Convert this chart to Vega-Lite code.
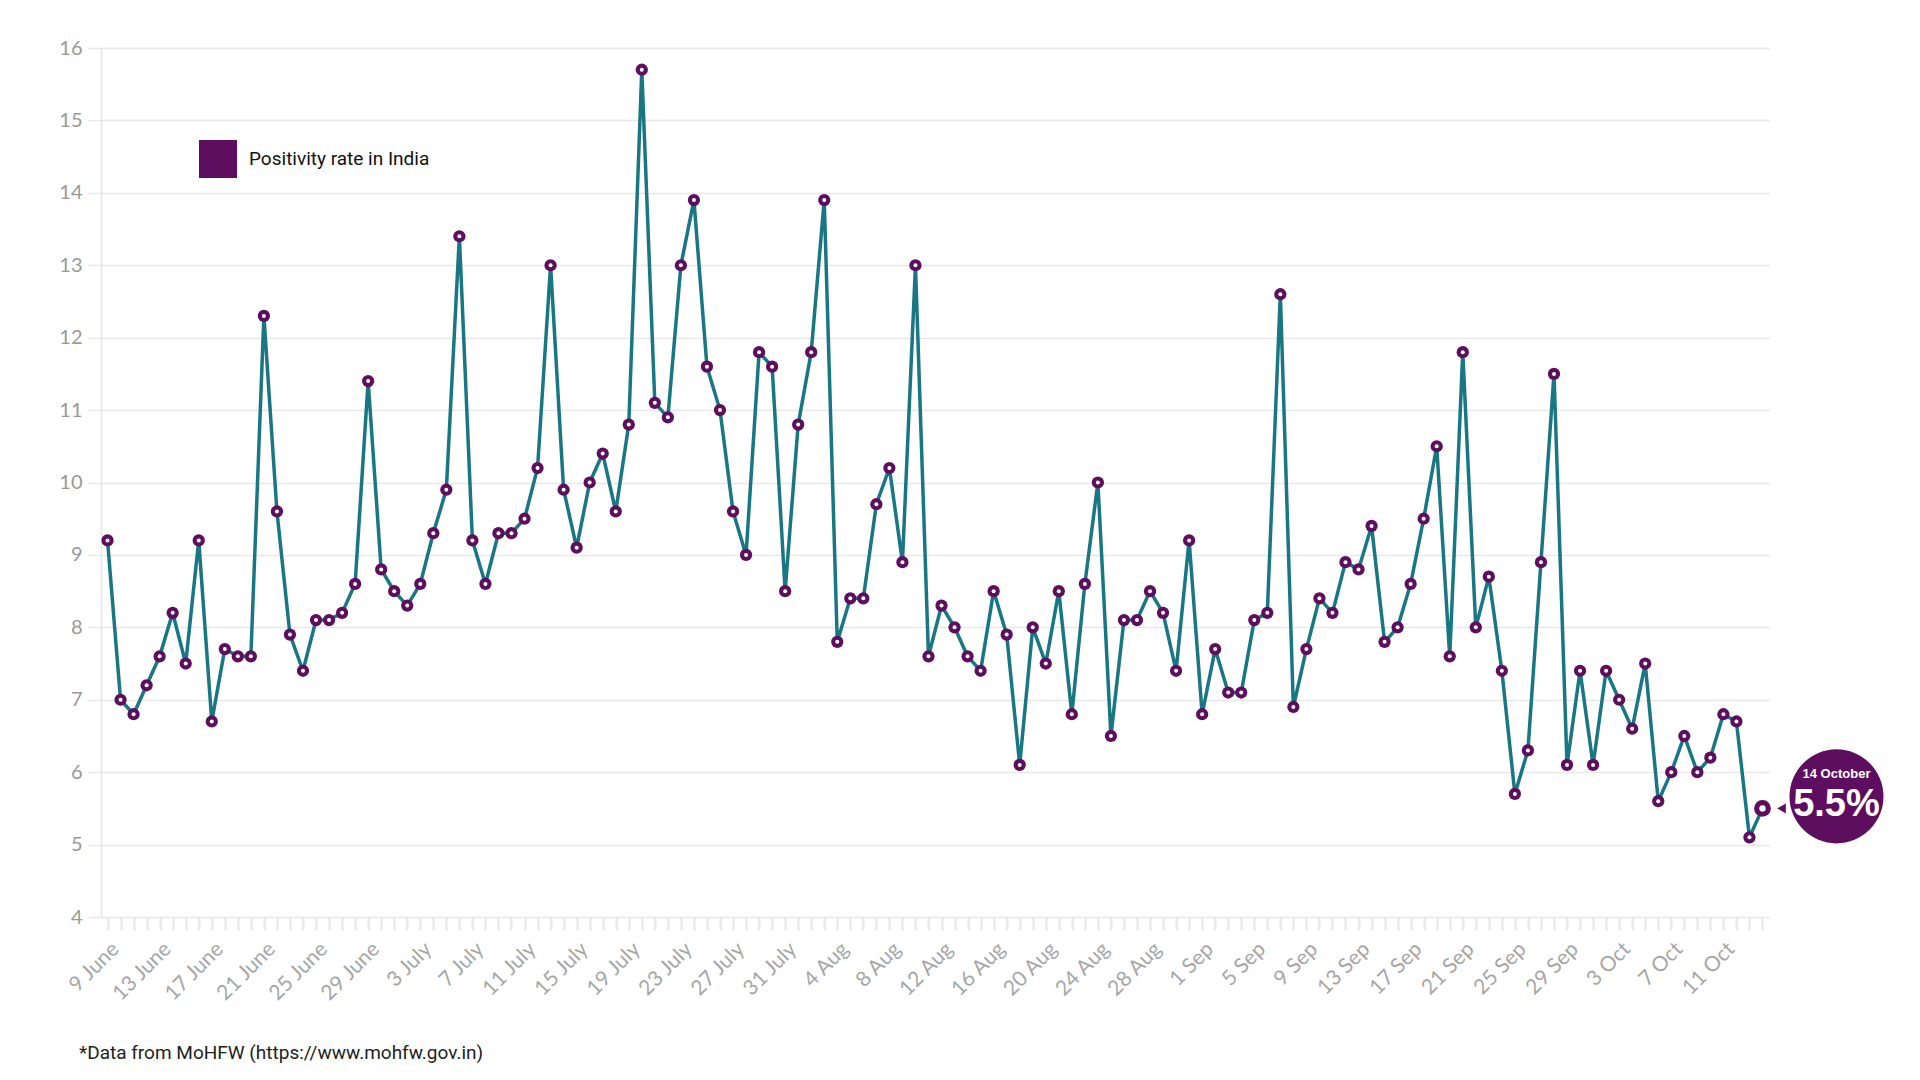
{
  "$schema": "https://vega.github.io/schema/vega-lite/v6.json",
  "width": 1668,
  "height": 869,
  "autosize": {"type": "none"},
  "padding": {"left": 101, "top": 48, "right": 151, "bottom": 163},
  "background": "white",
  "usermeta": {"embedOptions": {"actions": false}},
  "config": {"view": {"stroke": null}},
  "title": {
    "text": "*Data from MoHFW (https://www.mohfw.gov.in)",
    "orient": "bottom",
    "anchor": "start",
    "frame": "group",
    "font": "Roboto",
    "fontSize": 19,
    "fontWeight": "normal",
    "color": "#222222",
    "dx": -22,
    "offset": 40
  },
  "data": {
    "values": [
      {"date": "9 June", "value": 9.2}, {"date": "10 June", "value": 7.0}, {"date": "11 June", "value": 6.8},
      {"date": "12 June", "value": 7.2}, {"date": "13 June", "value": 7.6}, {"date": "14 June", "value": 8.2},
      {"date": "15 June", "value": 7.5}, {"date": "16 June", "value": 9.2}, {"date": "17 June", "value": 6.7},
      {"date": "18 June", "value": 7.7}, {"date": "19 June", "value": 7.6}, {"date": "20 June", "value": 7.6},
      {"date": "21 June", "value": 12.3}, {"date": "22 June", "value": 9.6}, {"date": "23 June", "value": 7.9},
      {"date": "24 June", "value": 7.4}, {"date": "25 June", "value": 8.1}, {"date": "26 June", "value": 8.1},
      {"date": "27 June", "value": 8.2}, {"date": "28 June", "value": 8.6}, {"date": "29 June", "value": 11.4},
      {"date": "30 June", "value": 8.8},
      {"date": "1 July", "value": 8.5}, {"date": "2 July", "value": 8.3}, {"date": "3 July", "value": 8.6},
      {"date": "4 July", "value": 9.3}, {"date": "5 July", "value": 9.9}, {"date": "6 July", "value": 13.4},
      {"date": "7 July", "value": 9.2}, {"date": "8 July", "value": 8.6}, {"date": "9 July", "value": 9.3},
      {"date": "10 July", "value": 9.3}, {"date": "11 July", "value": 9.5}, {"date": "12 July", "value": 10.2},
      {"date": "13 July", "value": 13.0}, {"date": "14 July", "value": 9.9}, {"date": "15 July", "value": 9.1},
      {"date": "16 July", "value": 10.0}, {"date": "17 July", "value": 10.4}, {"date": "18 July", "value": 9.6},
      {"date": "19 July", "value": 10.8}, {"date": "20 July", "value": 15.7}, {"date": "21 July", "value": 11.1},
      {"date": "22 July", "value": 10.9}, {"date": "23 July", "value": 13.0}, {"date": "24 July", "value": 13.9},
      {"date": "25 July", "value": 11.6}, {"date": "26 July", "value": 11.0}, {"date": "27 July", "value": 9.6},
      {"date": "28 July", "value": 9.0}, {"date": "29 July", "value": 11.8}, {"date": "30 July", "value": 11.6},
      {"date": "31 July", "value": 8.5},
      {"date": "1 Aug", "value": 10.8}, {"date": "2 Aug", "value": 11.8}, {"date": "3 Aug", "value": 13.9},
      {"date": "4 Aug", "value": 7.8}, {"date": "5 Aug", "value": 8.4}, {"date": "6 Aug", "value": 8.4},
      {"date": "7 Aug", "value": 9.7}, {"date": "8 Aug", "value": 10.2}, {"date": "9 Aug", "value": 8.9},
      {"date": "10 Aug", "value": 13.0}, {"date": "11 Aug", "value": 7.6}, {"date": "12 Aug", "value": 8.3},
      {"date": "13 Aug", "value": 8.0}, {"date": "14 Aug", "value": 7.6}, {"date": "15 Aug", "value": 7.4},
      {"date": "16 Aug", "value": 8.5}, {"date": "17 Aug", "value": 7.9}, {"date": "18 Aug", "value": 6.1},
      {"date": "19 Aug", "value": 8.0}, {"date": "20 Aug", "value": 7.5}, {"date": "21 Aug", "value": 8.5},
      {"date": "22 Aug", "value": 6.8}, {"date": "23 Aug", "value": 8.6}, {"date": "24 Aug", "value": 10.0},
      {"date": "25 Aug", "value": 6.5}, {"date": "26 Aug", "value": 8.1}, {"date": "27 Aug", "value": 8.1},
      {"date": "28 Aug", "value": 8.5}, {"date": "29 Aug", "value": 8.2}, {"date": "30 Aug", "value": 7.4},
      {"date": "31 Aug", "value": 9.2},
      {"date": "1 Sep", "value": 6.8}, {"date": "2 Sep", "value": 7.7}, {"date": "3 Sep", "value": 7.1},
      {"date": "4 Sep", "value": 7.1}, {"date": "5 Sep", "value": 8.1}, {"date": "6 Sep", "value": 8.2},
      {"date": "7 Sep", "value": 12.6}, {"date": "8 Sep", "value": 6.9}, {"date": "9 Sep", "value": 7.7},
      {"date": "10 Sep", "value": 8.4}, {"date": "11 Sep", "value": 8.2}, {"date": "12 Sep", "value": 8.9},
      {"date": "13 Sep", "value": 8.8}, {"date": "14 Sep", "value": 9.4}, {"date": "15 Sep", "value": 7.8},
      {"date": "16 Sep", "value": 8.0}, {"date": "17 Sep", "value": 8.6}, {"date": "18 Sep", "value": 9.5},
      {"date": "19 Sep", "value": 10.5}, {"date": "20 Sep", "value": 7.6}, {"date": "21 Sep", "value": 11.8},
      {"date": "22 Sep", "value": 8.0}, {"date": "23 Sep", "value": 8.7}, {"date": "24 Sep", "value": 7.4},
      {"date": "25 Sep", "value": 5.7}, {"date": "26 Sep", "value": 6.3}, {"date": "27 Sep", "value": 8.9},
      {"date": "28 Sep", "value": 11.5}, {"date": "29 Sep", "value": 6.1}, {"date": "30 Sep", "value": 7.4},
      {"date": "1 Oct", "value": 6.1}, {"date": "2 Oct", "value": 7.4}, {"date": "3 Oct", "value": 7.0},
      {"date": "4 Oct", "value": 6.6}, {"date": "5 Oct", "value": 7.5}, {"date": "6 Oct", "value": 5.6},
      {"date": "7 Oct", "value": 6.0}, {"date": "8 Oct", "value": 6.5}, {"date": "9 Oct", "value": 6.0},
      {"date": "10 Oct", "value": 6.2}, {"date": "11 Oct", "value": 6.8}, {"date": "12 Oct", "value": 6.7},
      {"date": "13 Oct", "value": 5.1},
      {"date": "14 Oct", "value": 5.5, "day": "14 October", "pct": "5.5%"}
    ]
  },
  "encoding": {
    "x": {
      "field": "date",
      "type": "ordinal",
      "sort": null,
      "scale": {"type": "point", "padding": 0.5},
      "axis": {
        "title": null,
        "domain": false,
        "grid": false,
        "ticks": true,
        "tickSize": 13,
        "tickWidth": 2,
        "tickColor": "#e6e6e6",
        "labelAngle": -45,
        "labelAlign": "right",
        "labelBaseline": "top",
        "labelPadding": 8,
        "labelFont": "Lato",
        "labelFontSize": 21,
        "labelColor": "#a6a6a6",
        "labelOverlap": false,
        "labelExpr": "round(datum.index * 127) % 4 === 0 ? datum.label : ''"
      }
    },
    "y": {
      "field": "value",
      "type": "quantitative",
      "scale": {"domain": [4, 16], "nice": false, "zero": false},
      "axis": {
        "title": null,
        "values": [4, 5, 6, 7, 8, 9, 10, 11, 12, 13, 14, 15, 16],
        "grid": true,
        "gridColor": "#e8e8e8",
        "gridWidth": 1.5,
        "domain": true,
        "domainColor": "#e6e6e6",
        "domainWidth": 1.5,
        "ticks": true,
        "tickSize": 13,
        "tickColor": "#e8e8e8",
        "tickWidth": 1.5,
        "labelPadding": 6,
        "labelFont": "Lato",
        "labelFontSize": 20,
        "labelColor": "#999999"
      }
    }
  },
  "layer": [
    {
      "mark": {"type": "line", "color": "#197784", "strokeWidth": 3.5, "interpolate": "linear"}
    },
    {
      "mark": {"type": "point", "filled": true, "shape": "circle", "size": 150, "opacity": 1},
      "encoding": {
        "color": {
          "datum": "Positivity rate in India",
          "type": "nominal",
          "scale": {"range": ["#5e0e5e"]},
          "legend": {
            "title": null,
            "orient": "none",
            "legendX": 98,
            "legendY": 92,
            "padding": 0,
            "symbolType": "square",
            "symbolSize": 1444,
            "symbolOpacity": 1,
            "symbolStrokeWidth": 0,
            "labelFont": "Roboto",
            "labelFontSize": 19,
            "labelColor": "#111111",
            "labelOffset": 12,
            "labelLimit": 0
          }
        }
      }
    },
    {
      "mark": {"type": "point", "filled": true, "shape": "circle", "size": 16, "color": "white", "opacity": 1}
    },
    {
      "mark": {"type": "point", "filled": true, "shape": "circle", "size": 280, "color": "#5e0e5e"},
      "encoding": {
        "opacity": {"condition": {"test": "isValid(datum.pct)", "value": 1}, "value": 0}
      }
    },
    {
      "mark": {"type": "point", "filled": true, "shape": "circle", "size": 40, "color": "white"},
      "encoding": {
        "opacity": {"condition": {"test": "isValid(datum.pct)", "value": 1}, "value": 0}
      }
    },
    {
      "mark": {"type": "point", "filled": true, "shape": "triangle-left", "size": 100, "color": "#5e0e5e", "xOffset": 19},
      "encoding": {
        "opacity": {"condition": {"test": "isValid(datum.pct)", "value": 1}, "value": 0}
      }
    },
    {
      "mark": {"type": "point", "filled": true, "shape": "circle", "size": 8836, "color": "#5e0e5e", "xOffset": 74, "yOffset": -12},
      "encoding": {
        "opacity": {"condition": {"test": "isValid(datum.pct)", "value": 1}, "value": 0}
      }
    },
    {
      "mark": {"type": "text", "font": "Liberation Sans", "fontWeight": "bold", "fontSize": 13, "color": "white", "dx": 74, "dy": -34, "align": "center", "baseline": "middle"},
      "encoding": {
        "text": {"condition": {"test": "isValid(datum.day)", "field": "day"}, "value": ""},
        "opacity": {"condition": {"test": "isValid(datum.pct)", "value": 1}, "value": 0}
      }
    },
    {
      "mark": {"type": "text", "font": "Liberation Sans", "fontWeight": "bold", "fontSize": 38, "color": "white", "dx": 74, "dy": -3, "align": "center", "baseline": "middle"},
      "encoding": {
        "text": {"condition": {"test": "isValid(datum.pct)", "field": "pct"}, "value": ""},
        "opacity": {"condition": {"test": "isValid(datum.pct)", "value": 1}, "value": 0}
      }
    }
  ]
}
